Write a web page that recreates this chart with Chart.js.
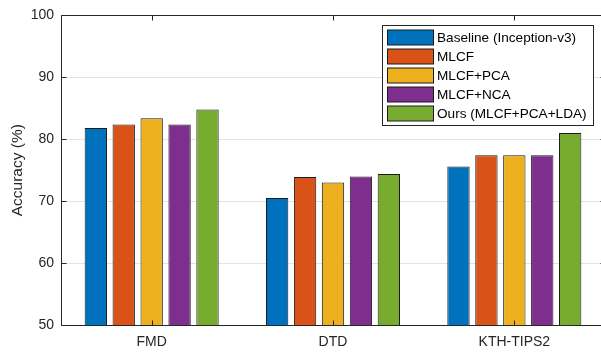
<!DOCTYPE html>
<html>
<head>
<meta charset="utf-8">
<script src="https://cdn.jsdelivr.net/npm/chart.js@4/dist/chart.umd.min.js"></script>
<style>
  html, body { margin: 0; padding: 0; background: #fff; overflow: hidden; }
  #wrap { width: 610px; height: 352px; position: relative; }
</style>
</head>
<body>
<div id="wrap"><canvas id="c"></canvas></div>
<script>
const categories = ['FMD', 'DTD', 'KTH-TIPS2'];
const seriesNames = ['Baseline (Inception-v3)', 'MLCF', 'MLCF+PCA', 'MLCF+NCA', 'Ours (MLCF+PCA+LDA)'];
const baseline = [81.8, 70.5, 75.6];
const mlcf = [82.4, 73.9, 77.4];
const mlcfPca = [83.4, 73.0, 77.4];
const mlcfNca = [82.4, 74.0, 77.4];
const ours = [84.8, 74.4, 81.0];
const yTicks = [50, 60, 70, 80, 90, 100];
const yTitle = 'Accuracy (%)';

const colors = ['#0072BD', '#D95319', '#EDB120', '#7E2F8E', '#77AC30'];
const seriesValues = [baseline, mlcf, mlcfPca, mlcfNca, ours];
const AXIS = '#262626';
const FONT = 'Liberation Sans, Arial, Helvetica, sans-serif';

const framePlugin = {
  id: 'frame',
  afterDatasetsDraw(chart) {
    const ctx = chart.ctx;
    const a = chart.chartArea;
    const L = Math.round(a.left) + 0.5, R = Math.round(a.right) + 0.5;
    const T = Math.round(a.top) + 0.5, B = Math.round(a.bottom) + 0.5;
    ctx.save();
    ctx.strokeStyle = AXIS;
    ctx.lineWidth = 1;
    ctx.beginPath();
    ctx.rect(L, T, R - L, B - T);
    ctx.stroke();
    const tl = 5;
    const ys = chart.scales.y;
    ctx.beginPath();
    yTicks.forEach(v => {
      const py = Math.round(ys.getPixelForValue(v)) + 0.5;
      ctx.moveTo(L, py); ctx.lineTo(L + tl, py);
      ctx.moveTo(R, py); ctx.lineTo(R - tl, py);
    });
    const xs = chart.scales.x;
    categories.forEach((c, i) => {
      const px = Math.round(xs.getPixelForValue(i)) + 0.5;
      ctx.moveTo(px, B); ctx.lineTo(px, B - tl);
      ctx.moveTo(px, T); ctx.lineTo(px, T + tl);
    });
    ctx.stroke();
    ctx.restore();
  },
  afterDraw(chart) {
    // legend box in the upper right of the plot
    const ctx = chart.ctx;
    const bx = 382.5, by = 25.5, bw = 211, bh = 100;
    ctx.save();
    ctx.fillStyle = '#fff';
    ctx.fillRect(bx, by, bw, bh);
    ctx.strokeStyle = AXIS;
    ctx.lineWidth = 1;
    ctx.strokeRect(bx, by, bw, bh);
    ctx.font = '13.6px ' + FONT;
    ctx.textBaseline = 'middle';
    ctx.textAlign = 'left';
    chart.data.datasets.forEach((ds, i) => {
      const cy = 37.5 + i * 19;
      ctx.fillStyle = ds.backgroundColor;
      ctx.fillRect(387.5, cy - 7.5, 46, 15);
      ctx.strokeStyle = '#1a1a1a';
      ctx.strokeRect(387.5, cy - 7.5, 46, 15);
      ctx.fillStyle = '#000';
      ctx.fillText(ds.label, 437, cy + 0.5);
    });
    ctx.restore();
  }
};

new Chart(document.getElementById('c'), {
  type: 'bar',
  data: {
    labels: categories,
    datasets: seriesNames.map((name, i) => ({
      label: name,
      data: seriesValues[i],
      backgroundColor: colors[i],
      borderColor: '#1a1a1a',
      borderWidth: 1,
      categoryPercentage: 0.77,
      barPercentage: 0.8
    }))
  },
  options: {
    responsive: true,
    maintainAspectRatio: false,
    animation: false,
    devicePixelRatio: 1,
    layout: { padding: { top: 15, right: 5, left: 0, bottom: 0 } },
    plugins: { legend: { display: false }, tooltip: { enabled: false } },
    scales: {
      x: {
        grid: { display: false, drawTicks: false },
        border: { display: false },
        ticks: { color: AXIS, font: { family: FONT, size: 14 }, padding: 9, maxRotation: 0 },
        afterFit(s) { s.height = 27; }
      },
      y: {
        min: 50,
        max: 100,
        afterBuildTicks(s) { s.ticks = yTicks.map(v => ({ value: v })); },
        grid: { color: '#e3e3e3', lineWidth: 1, drawTicks: false },
        border: { display: false },
        ticks: { color: AXIS, font: { family: FONT, size: 14 }, padding: 7 },
        title: { display: true, text: yTitle, color: AXIS, font: { family: FONT, size: 15.5 }, padding: { top: 8, bottom: 0 } },
        afterFit(s) { s.width = 61; }
      }
    }
  },
  plugins: [framePlugin]
});
</script>
</body>
</html>
